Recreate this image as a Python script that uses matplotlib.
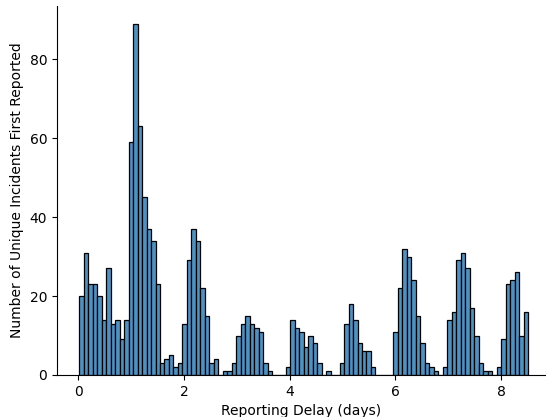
import numpy as np
import matplotlib
matplotlib.use('Agg')
import matplotlib.pyplot as plt

# histogram counts per bin (100 equal bins over the delay range)
delay_min = 0.02
delay_max = 8.51
counts = [20, 31, 23, 23, 20, 14, 27, 13, 14, 9,
          14, 59, 89, 63, 45, 37, 34, 23, 3, 4,
          5, 2, 3, 13, 29, 37, 34, 22, 15, 3,
          4, 0, 1, 1, 3, 10, 13, 15, 13, 12,
          11, 3, 1, 0, 0, 0, 2, 14, 12, 11,
          7, 10, 8, 3, 0, 1, 0, 0, 3, 13,
          18, 14, 8, 6, 6, 2, 0, 0, 0, 0,
          11, 22, 32, 30, 24, 15, 8, 3, 2, 1,
          0, 2, 14, 16, 29, 31, 27, 17, 10, 3,
          1, 1, 0, 2, 9, 23, 24, 26, 10, 16]
xticks = [0, 2, 4, 6, 8]
yticks = [0, 20, 40, 60, 80]


def main():
    edges = np.linspace(delay_min, delay_max, len(counts) + 1)

    fig = plt.figure(figsize=(5.46, 4.17), dpi=100)
    ax = fig.add_axes([57 / 546, 42 / 417, 488 / 546, 369 / 417])

    ax.hist(edges[:-1], bins=edges, weights=counts,
            facecolor='#4c92c3', edgecolor='black', linewidth=0.9)

    ax.set_xlim(-0.4, 8.83)
    ax.set_ylim(0, max(counts) * 1.05)
    ax.set_xticks(xticks)
    ax.set_yticks(yticks)
    ax.spines['top'].set_visible(False)
    ax.spines['right'].set_visible(False)

    ax.set_xlabel('Reporting Delay (days)')
    ax.set_ylabel('Number of Unique Incidents First Reported')

    fig.savefig('out.png', dpi=100)


if __name__ == '__main__':
    main()
